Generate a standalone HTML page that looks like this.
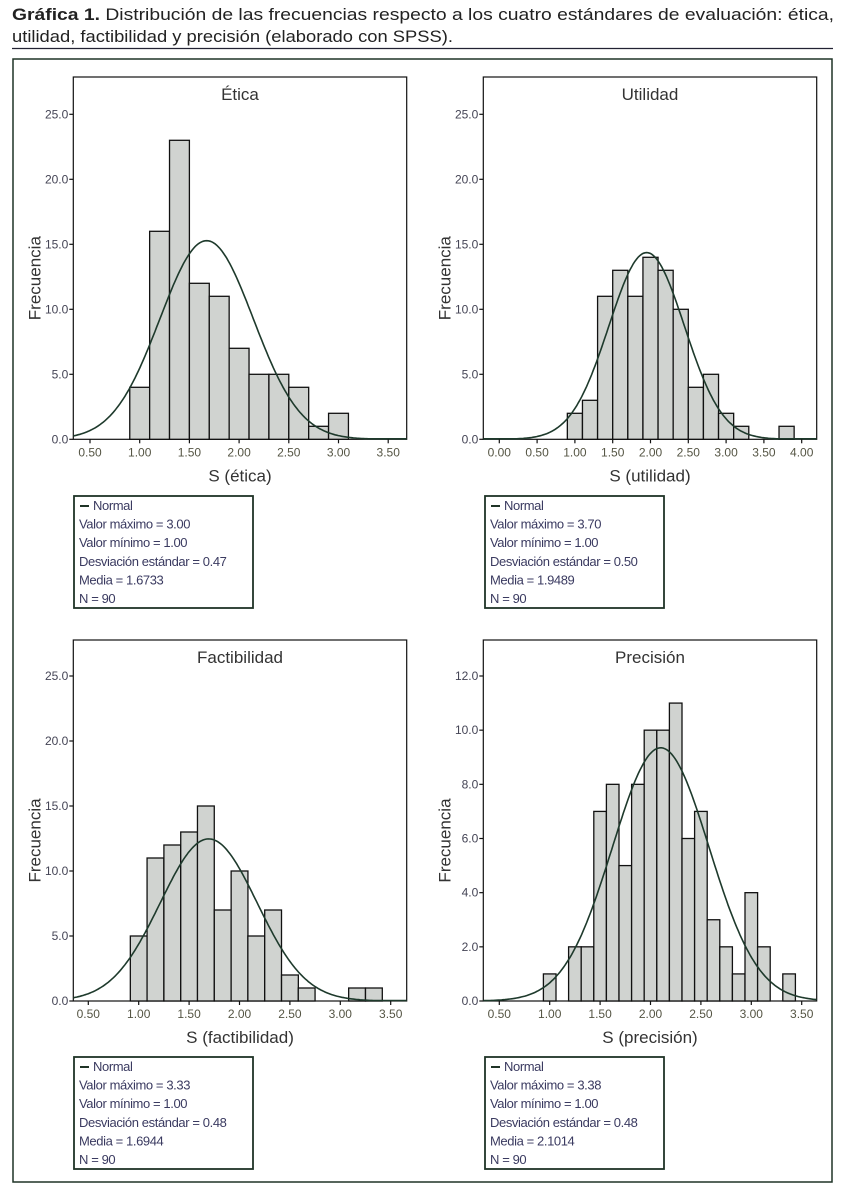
<!DOCTYPE html>
<html><head><meta charset="utf-8">
<style>
body{margin:0;background:#fff;width:841px;height:1198px;overflow:hidden}
svg{display:block}
text{font-family:"Liberation Sans Narrow","Liberation Sans",sans-serif}
</style></head><body>
<svg id="s" width="841" height="1198" xmlns="http://www.w3.org/2000/svg">
<text x="12" y="20" font-size="17" fill="#222" textLength="822" lengthAdjust="spacingAndGlyphs"><tspan font-weight="bold">Gráfica 1.</tspan> Distribución de las frecuencias respecto a los cuatro estándares de evaluación: ética,</text>
<text x="12" y="42" font-size="17" fill="#222" textLength="441" lengthAdjust="spacingAndGlyphs">utilidad, factibilidad y precisión (elaborado con SPSS).</text>
<line x1="12" y1="48.5" x2="833" y2="48.5" stroke="#223" stroke-width="1.2"/>
<rect x="13" y="59" width="819" height="1123" fill="none" stroke="#1f3326" stroke-width="1.5"/>
</svg>
<script>
// ---- data ----
const eticaStarts=[0.9,1.1,1.3,1.5,1.7,1.9,2.1,2.3,2.5,2.7,2.9,3.1,3.3];
const eticaCounts=[4,16,23,12,11,7,5,5,4,1,2,0,0];
const utilidadStarts=[0.9,1.1,1.3,1.5,1.7,1.9,2.1,2.3,2.5,2.7,2.9,3.1,3.3,3.5,3.7];
const utilidadCounts=[2,3,11,13,11,14,13,10,4,5,2,1,0,0,1];
const factStarts=[0.917,1.083,1.25,1.417,1.583,1.75,1.917,2.083,2.25,2.417,2.583,2.75,2.917,3.083,3.25];
const factCounts=[5,11,12,13,15,7,10,5,7,2,1,0,0,1,1];
const precStarts=[0.9375,1.0625,1.1875,1.3125,1.4375,1.5625,1.6875,1.8125,1.9375,2.0625,2.1875,2.3125,2.4375,2.5625,2.6875,2.8125,2.9375,3.0625,3.1875,3.3125];
const precCounts=[1,0,2,2,7,8,5,8,10,10,11,6,7,3,2,1,4,2,0,1];
const binWidths=[0.2,0.2,0.1667,0.125];
const means=[1.6733,1.9489,1.6944,2.1014];
const sds=[0.47,0.50,0.48,0.48];
const maxs=["3.00","3.70","3.33","3.38"];
const mins=["1.00","1.00","1.00","1.00"];
const sdLabels=["0.47","0.50","0.48","0.48"];
const meanLabels=["1.6733","1.9489","1.6944","2.1014"];
const nObs=[90,90,90,90];
const titles=["Ética","Utilidad","Factibilidad","Precisión"];
const xTitles=["S (ética)","S (utilidad)","S (factibilidad)","S (precisión)"];
const xTicksA=["0.50","1.00","1.50","2.00","2.50","3.00","3.50"];
const xTicksB=["0.00","0.50","1.00","1.50","2.00","2.50","3.00","3.50","4.00"];
const yTicksA=["0.0","5.0","10.0","15.0","20.0","25.0"];
const yTicksB=["0.0","2.0","4.0","6.0","8.0","10.0","12.0"];

const svg=document.getElementById('s');
const NS='http://www.w3.org/2000/svg';
function mk(tag,attrs,parent){const e=document.createElementNS(NS,tag);for(const k in attrs)e.setAttribute(k,attrs[k]);(parent||svg).appendChild(e);return e;}

const layouts=[
 {L:73.3,R:406.7,T:77,B:439.3,x0:0.5,px0:90,pxu:99.4,yMax:25,pyTop:114.3,yTicks:yTicksA,xTicks:xTicksA,starts:eticaStarts,counts:eticaCounts,lx:74,ly:496},
 {L:483.3,R:816.7,T:77,B:439.3,x0:0,px0:499.3,pxu:75.6,yMax:25,pyTop:114.3,yTicks:yTicksA,xTicks:xTicksB,starts:utilidadStarts,counts:utilidadCounts,lx:485,ly:496},
 {L:73.3,R:406.7,T:640,B:1001,x0:0.5,px0:88.3,pxu:100.8,yMax:25,pyTop:676,yTicks:yTicksA,xTicks:xTicksA,starts:factStarts,counts:factCounts,lx:74,ly:1057},
 {L:483.3,R:816.7,T:640,B:1001,x0:0.5,px0:499.3,pxu:100.8,yMax:12,pyTop:676,yTicks:yTicksB,xTicks:xTicksA,starts:precStarts,counts:precCounts,lx:485,ly:1057}
];

layouts.forEach((c,i)=>{
 const g=mk('g',{});
 
 
 const xs=v=>c.px0+(v-c.x0)*c.pxu;
 const ys=v=>c.B-(v/c.yMax)*(c.B-c.pyTop);
 const frame=mk('rect',{x:c.L,y:c.T,width:c.R-c.L,height:c.B-c.T,fill:'#fff',stroke:'#111','stroke-width':1.2},g);
 
 
 const tt=mk('text',{x:(c.L+c.R)/2,y:c.T+23,'font-size':17,'text-anchor':'middle',fill:'#333'},g);
 tt.textContent=titles[i];
 
 
 c.starts.forEach((s,j)=>{
  const h=c.counts[j];
  const x1=xs(s),x2=xs(s+binWidths[i]);
  if(h>0){
   const r=mk('rect',{x:x1,y:ys(h),width:x2-x1,height:c.B-ys(h),fill:'#d0d3d0',stroke:'#111','stroke-width':1.3},g);
   
   
  }
 });
 const peakScale=nObs[i]*binWidths[i]/(sds[i]*Math.sqrt(2*Math.PI));
 let d='';
 const vStart=c.x0+(c.L-c.px0)/c.pxu, vEnd=c.x0+(c.R-c.px0)/c.pxu;
 for(let k=0;k<=200;k++){
  const v=vStart+(vEnd-vStart)*k/200;
  const z=(v-means[i])/sds[i];
  const yv=peakScale*Math.exp(-0.5*z*z);
  d+=(k?'L':'M')+xs(v).toFixed(1)+','+Math.min(ys(yv),c.B-0.5).toFixed(1);
 }
 const p=mk('path',{d:d,fill:'none',stroke:'#1e3a2c','stroke-width':1.6},g);
 
 
 c.yTicks.forEach(t=>{
  const y=ys(parseFloat(t));
  mk('line',{x1:c.L-4,y1:y,x2:c.L,y2:y,stroke:'#111','stroke-width':1.2},g);
  const tx=mk('text',{x:c.L-5,y:y+4,'font-size':12,'text-anchor':'end',fill:'#445'},g);
  tx.textContent=t;
  
  
 });
 c.xTicks.forEach(t=>{
  const x=xs(parseFloat(t));
  mk('line',{x1:x,y1:c.B,x2:x,y2:c.B+4,stroke:'#111','stroke-width':1.2},g);
  const tx=mk('text',{x:x,y:c.B+17,'font-size':12,'text-anchor':'middle',fill:'#554'},g);
  tx.textContent=t;
  
  
 });
 const xt=mk('text',{x:(c.L+c.R)/2,y:c.B+42,'font-size':17,'text-anchor':'middle',fill:'#333'},g);
 xt.textContent=xTitles[i];
 
 
 const yc=(c.T+c.B)/2+20;
 const yt=mk('text',{x:c.L-33,y:yc,'font-size':17,'text-anchor':'middle',fill:'#333',transform:'rotate(-90 '+(c.L-33)+' '+yc+')'},g);
 yt.textContent='Frecuencia';
 
 
 const lg=mk('g',{},g);
 
 
 mk('rect',{x:c.lx,y:c.ly,width:179,height:112,fill:'#fff',stroke:'#1f3326','stroke-width':1.8},lg);
 mk('line',{x1:c.lx+6,y1:c.ly+10,x2:c.lx+15,y2:c.ly+10,stroke:'#1f3326','stroke-width':2},lg);
 const lines=['Normal','Valor máximo = '+maxs[i],'Valor mínimo = '+mins[i],'Desviación estándar = '+sdLabels[i],'Media = '+meanLabels[i],'N = '+nObs[i]];
 lines.forEach((s,k)=>{
  const tx=mk('text',{x:c.lx+(k?5:19),y:c.ly+14+k*18.6,'font-size':13,'letter-spacing':'-0.4',fill:'#3a3a60'},lg);
  tx.textContent=s;
  
  
 });
});
</script>
</body></html>
